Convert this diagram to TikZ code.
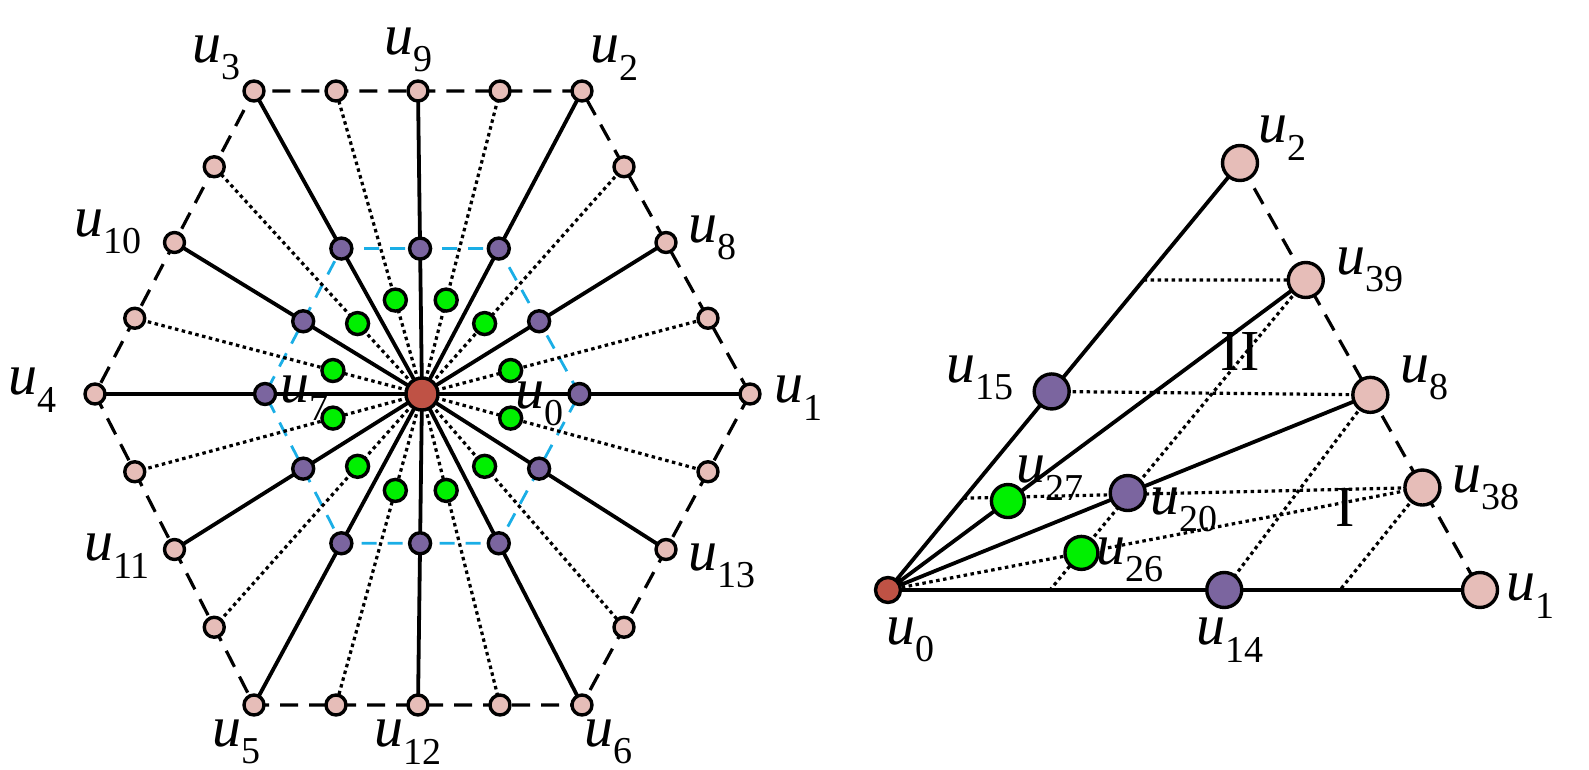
\documentclass[tikz,border=0pt]{standalone}
\usepackage{fontspec}
\setmainfont{Liberation Serif}
\usetikzlibrary{calc}
\definecolor{pk}{HTML}{E6BDB8}
\definecolor{pu}{HTML}{7B659F}
\definecolor{gr}{HTML}{00F000}
\definecolor{rd}{HTML}{BF5245}
\definecolor{cy}{HTML}{1AAEE6}
\newcommand{\ulab}[1]{{\itshape u}\raisebox{-0.3em}{\fontsize{38}{38}\selectfont #1}}
\begin{document}
\begin{tikzpicture}[x=1pt,y=-1pt,
  dot/.style={circle,draw=black,line width=3.4pt,inner sep=0pt,minimum size=#1},
  P/.style={dot=20,fill=pk}, U/.style={dot=21,fill=pu}, G/.style={dot=22,fill=gr},
  PP/.style={dot=35,fill=pk}, UU/.style={dot=35,fill=pu}, GG/.style={dot=33,fill=gr},
  sol/.style={line width=3.8pt}, dts/.style={line width=3.2pt,dash pattern=on 3.5pt off 3.5pt},
  dsh/.style={line width=3.2pt,dash pattern=on 18pt off 11pt},
  lab/.style={font=\fontsize{58}{60}\selectfont,inner sep=0pt,anchor=west}]
\useasboundingbox (0,0) rectangle (1589,770);
% left hexagon
\coordinate (C) at (422,394);
\coordinate (V0) at (750,394);
\coordinate (V1) at (582,91);
\coordinate (V2) at (254,91);
\coordinate (V3) at (95,394);
\coordinate (V4) at (254,705);
\coordinate (V5) at (582,705);
\draw[dsh] (V0)--(V1)--(V2)--(V3)--(V4)--(V5)--cycle;
\foreach \i/\j in {0/1,1/2,2/3,3/4,4/5,5/0}{
  \coordinate (M\i) at ($(V\i)!0.5!(V\j)$);
  \coordinate (Qa\i) at ($(V\i)!0.25!(V\j)$);
  \coordinate (Qb\i) at ($(V\i)!0.75!(V\j)$);
}
\draw[cy,line width=2.8pt,dash pattern=on 15pt off 11pt]
  ($(C)!0.48!(V0)$)--($(C)!0.48!(V1)$)--($(C)!0.48!(V2)$)--($(C)!0.48!(V3)$)--($(C)!0.48!(V4)$)--($(C)!0.48!(V5)$)--cycle;
\foreach \i in {0,...,5}{
  \draw[sol] (C)--(V\i); \draw[sol] (C)--(M\i);
  \draw[dts] (C)--(Qa\i); \draw[dts] (C)--(Qb\i);
}
\foreach \i in {0,...,5}{
  \node[P] (o\i) at (V\i) {}; \node[P] (m\i) at (M\i) {};
  \node[P] (qa\i) at (Qa\i) {}; \node[P] (qb\i) at (Qb\i) {};
  \node[U] (iv\i) at ($(C)!0.48!(V\i)$) {};
  \node[U] (im\i) at ($(C)!0.48!(M\i)$) {};
  \node[G] (ga\i) at ($(C)!0.31!(Qa\i)$) {};
  \node[G] (gb\i) at ($(C)!0.31!(Qb\i)$) {};
}
\node[dot=32,fill=rd] (c) at (C) {};
\node[lab] at (192,58) {\ulab{3}};
\node[lab] at (384,50) {\ulab{9}};
\node[lab] at (590,58) {\ulab{2}};
\node[lab] at (74,232) {\ulab{10}};
\node[lab] at (688,238) {\ulab{8}};
\node[lab] at (8,390) {\ulab{4}};
\node[lab] at (774,398) {\ulab{1}};
\node[lab] at (84,556) {\ulab{11}};
\node[lab] at (688,566) {\ulab{13}};
\node[lab] at (212,742) {\ulab{5}};
\node[lab] at (374,742) {\ulab{12}};
\node[lab] at (584,742) {\ulab{6}};
\node[lab] at (280,398) {\ulab{7}};
\node[lab] at (515,404) {\ulab{0}};
% right triangle
\coordinate (R0) at (888,590);
\coordinate (R1) at (1480,590);
\coordinate (R2) at (1240,163);
\coordinate (R39) at ($(R2)!0.274!(R1)$);
\coordinate (R8) at ($(R2)!0.543!(R1)$);
\coordinate (R38) at ($(R2)!0.76!(R1)$);
\coordinate (R15) at ($(R0)!0.465!(R2)$);
\coordinate (R14) at ($(R0)!0.568!(R1)$);
\coordinate (R20) at ($(R0)!0.497!(R8)$);
\coordinate (R27) at ($(R0)!0.287!(R39)$);
\coordinate (R26) at ($(R0)!0.362!(R38)$);
\coordinate (A1) at ($(R0)!0.215!(R2)$);
\coordinate (A2) at ($(R0)!0.726!(R2)$);
\coordinate (B1) at (1050,590);
\coordinate (B2) at (1340,590);
\draw[sol] (R0)--(R2) (R0)--(R1) (R0)--(R39) (R0)--(R8);
\draw[dsh] (R2)--(R1);
\draw[dts] (A2)--(R39) (R15)--(R8) (A1)--(R38) (R0)--(R38)
  (R39)--(B1) (R8)--(R14) (R38)--(B2);
\node[PP] (r2) at (R2) {}; \node[PP] (r1) at (R1) {};
\node[PP] (r39) at (R39) {}; \node[PP] (r8) at (R8) {}; \node[PP] (r38) at (R38) {};
\node[UU] (r15) at (R15) {}; \node[UU] (r14) at (R14) {}; \node[UU] (r20) at (R20) {};
\node[GG] (r27) at (R27) {}; \node[GG] (r26) at (R26) {};
\node[dot=25,fill=rd] (r0) at (R0) {};
\node[lab] at (1258,138) {\ulab{2}};
\node[lab] at (1336,270) {\ulab{39}};
\node[lab] at (946,378) {\ulab{15}};
\node[lab] at (1400,378) {\ulab{8}};
\node[lab] at (1016,478) {\ulab{27}};
\node[lab] at (1452,488) {\ulab{38}};
\node[lab] at (1150,510) {\ulab{20}};
\node[lab] at (1096,560) {\ulab{26}};
\node[lab] at (1506,596) {\ulab{1}};
\node[lab] at (1196,640) {\ulab{14}};
\node[lab] at (886,640) {\ulab{0}};
\node[lab,anchor=center] at (1345,508) {I};
\node[lab,anchor=center] at (1240,352) {II};
\end{tikzpicture}
\end{document}
